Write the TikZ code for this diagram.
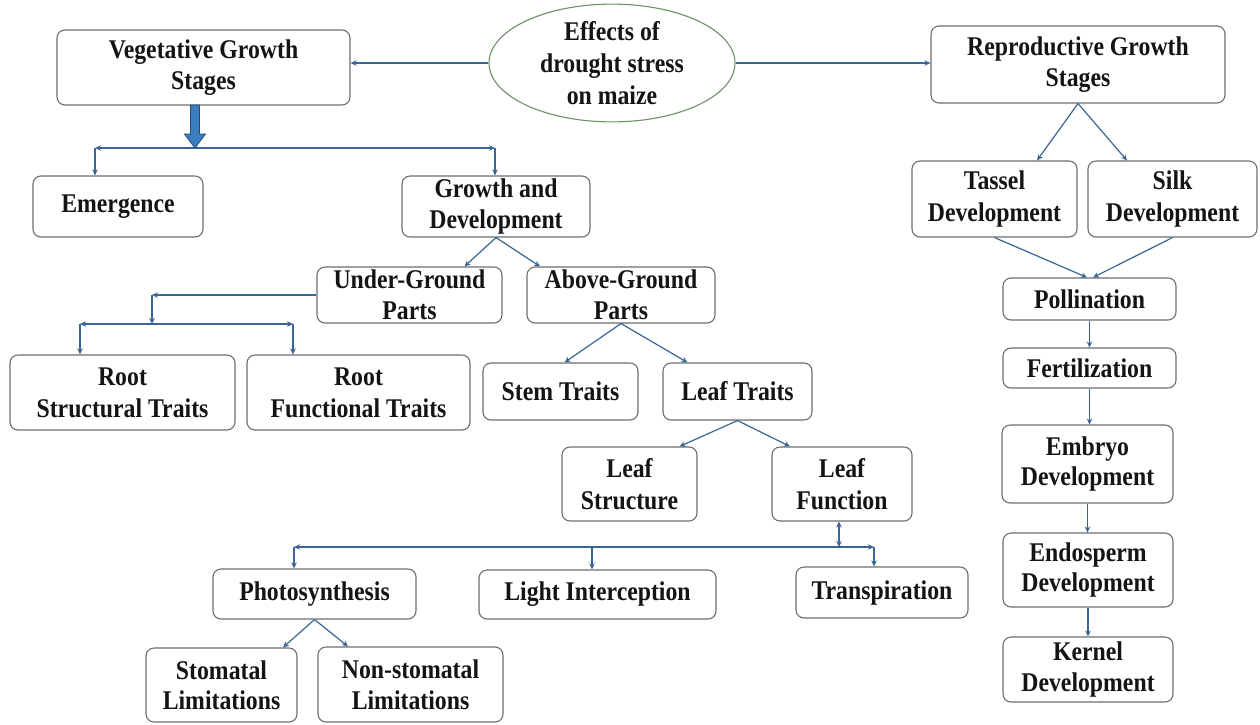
\documentclass[tikz,border=0pt]{standalone}
\usepackage{fontspec}
\setmainfont{Liberation Serif}[FakeStretch=0.88]
\usetikzlibrary{shapes.geometric,arrows.meta}
\definecolor{boxgray}{HTML}{6E6E6E}
\definecolor{connblue}{HTML}{3B6594}
\definecolor{ellgreen}{HTML}{6F8F6A}
\definecolor{thickfill}{HTML}{3A7DC0}
\definecolor{thickdraw}{HTML}{1F4E79}
\definecolor{txt}{HTML}{141414}
\begin{document}
\begin{tikzpicture}[x=1pt,y=-1pt,
  box/.style={draw=boxgray, line width=1.1pt, rounded corners=8pt, fill=white, align=center,
    inner sep=0pt, font=\fontsize{27}{30.5}\selectfont\bfseries, text=txt},
  sz/.style 2 args={minimum width=#1pt, minimum height=#2pt},
  conn/.style={draw=connblue, line width=1.2pt, -{Stealth[length=6pt,width=5.5pt]}},
  both/.style={draw=connblue, line width=1.2pt, {Stealth[length=6pt,width=5.5pt]}-{Stealth[length=6pt,width=5.5pt]}},
  thickarrow/.style={fill=thickfill, draw=thickdraw, line width=0.8pt, line join=miter}]
\fill[white] (0,0) rectangle (1260,724);
\useasboundingbox (0,0) rectangle (1260,724);

% top row
\node[box, sz={293}{75}] (veg) at (203.5,67.5) {Vegetative Growth\\Stages};
\node[ellipse, draw=ellgreen, line width=1.1pt, fill=white, align=center, inner sep=0pt,
  minimum width=246pt, minimum height=112pt, font=\fontsize{27}{32}\selectfont\bfseries, text=txt]
  (eff) at (612,63) {Effects of\\drought stress\\on maize};
\node[box, sz={294}{77}] (rep) at (1078,64.5) {Reproductive Growth\\Stages};

\draw[conn] (eff.west) -- (veg.east |- eff.west);
\draw[conn] (eff.east) -- (rep.west |- eff.east);

% vegetative branch
\node[box, sz={170}{61}] (emer) at (118,206.5) {Emergence};
\node[box, sz={188}{61}] (grow) at (496,206.5) {Growth and\\Development};

\coordinate (ta) at (195,105);
\coordinate (b1) at (195,148);
\coordinate (bl) at (95,148);
\coordinate (br) at (495,148);
\draw[conn] (b1) -- (bl);
\draw[conn] (b1) -- (br);
\draw[conn] (bl) -- (bl |- emer.north);
\draw[conn] (br) -- (br |- grow.north);
\draw[thickarrow] (ta) ++(-4.5,0) -- ++(0,29) -- ++(-6,0) -- ++(10.5,14) -- ++(10.5,-14) -- ++(-6,0) -- ++(0,-29) -- cycle;

\node[box, sz={185}{56}] (under) at (409.5,295) {Under-Ground\\Parts};
\node[box, sz={188}{56}] (above) at (621,295) {Above-Ground\\Parts};
\draw[conn] (grow.south) -- ([xshift=55pt]under.north);
\draw[conn] (grow.south) -- ([xshift=-81pt]above.north);

\node[box, sz={225}{75}, font=\fontsize{27}{32}\selectfont\bfseries] (rstruct) at (122.5,392.5) {Root\\Structural Traits};
\node[box, sz={223}{75}, font=\fontsize{27}{32}\selectfont\bfseries] (rfunc) at (358.5,392.5) {Root\\Functional Traits};
\coordinate (u1) at (152,295);
\coordinate (u2) at (152,324);
\coordinate (ul) at (80,324);
\coordinate (ur) at (293,324);
\draw[conn] (under.west) -- (u1);
\draw[conn] (u1) -- (u2);
\draw[conn] (u2) -- (ul);
\draw[conn] (u2) -- (ur);
\draw[conn] (ul) -- (ul |- rstruct.north);
\draw[conn] (ur) -- (ur |- rfunc.north);

\node[box, sz={155}{57}] (stem) at (560.5,391.5) {Stem Traits};
\node[box, sz={149}{57}] (leaft) at (737.5,391.5) {Leaf Traits};
\draw[conn] (above.south) -- ([xshift=4pt]stem.north);
\draw[conn] (above.south) -- ([xshift=-50pt]leaft.north);

\node[box, sz={135}{74}, font=\fontsize{27}{32}\selectfont\bfseries] (lstruct) at (629.5,484) {Leaf\\Structure};
\node[box, sz={140}{74}, font=\fontsize{27}{32}\selectfont\bfseries] (lfunc) at (842,484) {Leaf\\Function};
\draw[conn] (leaft.south) -- ([xshift=50pt]lstruct.north);
\draw[conn] (leaft.south) -- ([xshift=-52pt]lfunc.north);

\node[box, sz={203}{50}] (photo) at (314.5,594) {Photosynthesis};
\node[box, sz={237}{49}] (light) at (597.5,594.5) {Light Interception};
\node[box, sz={172}{51}] (transp) at (882,592.5) {Transpiration};
\coordinate (f1) at (839,547);
\coordinate (pl) at (294,547);
\coordinate (pm) at (592,547);
\coordinate (pr) at (874,547);
\draw[both] (f1) -- (f1 |- lfunc.south);
\draw[both] (pl) -- (pr);
\draw[conn] (pl) -- (pl |- photo.north);
\draw[conn] (pm) -- (pm |- light.north);
\draw[conn] (pr) -- (pr |- transp.north);

\node[box, sz={151}{74}] (stoma) at (221.5,685) {Stomatal\\Limitations};
\node[box, sz={185}{75}] (nonsto) at (410.5,684.5) {Non-stomatal\\Limitations};
\draw[conn] (photo.south) -- ([xshift=61.5pt]stoma.north);
\draw[conn] (photo.south) -- ([xshift=-62.5pt]nonsto.north);

% reproductive branch
\node[box, sz={165}{76}, font=\fontsize{27}{32}\selectfont\bfseries] (tassel) at (994.5,199) {Tassel\\Development};
\node[box, sz={169}{76}, font=\fontsize{27}{32}\selectfont\bfseries] (silk) at (1172.5,199) {Silk\\Development};
\draw[conn] (rep.south) -- ([xshift=42.5pt]tassel.north);
\draw[conn] (rep.south) -- ([xshift=-45.5pt]silk.north);

\node[box, sz={173}{42}] (poll) at (1089.5,299) {Pollination};
\node[box, sz={173}{40}] (fert) at (1089.5,368) {Fertilization};
\node[box, sz={171}{78}] (embryo) at (1087.5,464) {Embryo\\Development};
\node[box, sz={170}{74}] (endo) at (1088,570) {Endosperm\\Development};
\node[box, sz={170}{65}] (kernel) at (1088,669.5) {Kernel\\Development};
\draw[conn] (tassel.south) -- ([xshift=-2.5pt]poll.north);
\draw[conn] (silk.south) -- ([xshift=3.5pt]poll.north);
\draw[conn] (poll.south) -- (poll.south |- fert.north);
\draw[conn] (fert.south) -- (fert.south |- embryo.north);
\draw[conn] (embryo.south) -- (embryo.south |- endo.north);
\draw[conn] (endo.south) -- (endo.south |- kernel.north);
\end{tikzpicture}
\end{document}
